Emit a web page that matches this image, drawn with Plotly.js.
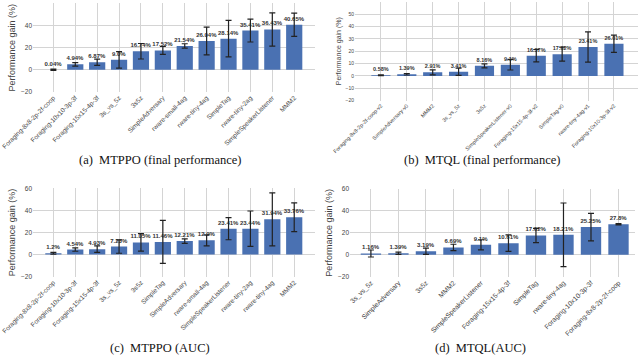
<!DOCTYPE html>
<html>
<head>
<meta charset="utf-8">
<script src="https://cdn.plot.ly/plotly-3.0.1.min.js"></script>
<style>
  html, body { margin: 0; padding: 0; background: #fff; }
  #chart { width: 640px; height: 356px; }
</style>
</head>
<body>
<div id="chart"></div>
<script>
// (a) MTPPO final performance
const catsA = ['Foraging-8x8-2p-2f-coop', 'Foraging-10x10-3p-3f', 'Foraging-15x15-4p-3f', '3s_vs_5z', '3s5z',
  'SimpleAdversary', 'rware-small-4ag', 'rware-tiny-4ag', 'SimpleTag', 'rware-tiny-2ag', 'SimpleSpeakerListener', 'MMM2'];
const valsA = [0.04, 4.94, 6.87, 9.0, 16.74, 17.52, 21.54, 26.04, 28.14, 35.41, 36.43, 40.65];
const errA = [0.5, 1.6, 2.8, 7.5, 7, 3.5, 2, 12.5, 16.5, 10.3, 15, 10.5];
const textA = ['0.04%', '4.94%', '6.87%', '9.0%', '16.74%', '17.52%', '21.54%', '26.04%', '28.14%', '35.41%', '36.43%', '40.65%'];

// (b) MTQL final performance
const catsB = ['Foraging-8x8-2p-2f-coop-v2', 'SimpleAdversary-v0', 'MMM2', '3s_vs_5z', '3s5z',
  'SimpleSpeakerListener-v0', 'Foraging-15x15-4p-3f-v2', 'SimpleTag-v0', 'rware-tiny-4ag-v1', 'Foraging-10x10-3p-3f-v2'];
const valsB = [0.58, 1.39, 2.91, 3.41, 8.16, 9.1, 16.37, 17.62, 23.41, 26.01];
const errB = [0.4, 0.6, 2, 3, 1.6, 4.3, 5, 5.7, 12.2, 7];
const textB = ['0.58%', '1.39%', '2.91%', '3.41%', '8.16%', '9.1%', '16.37%', '17.62%', '23.41%', '26.01%'];

// (c) MTPPO AUC
const catsC = ['Foraging-8x8-2p-2f-coop', 'Foraging-10x10-3p-3f', 'Foraging-15x15-4p-3f', '3s_vs_5z', '3s5z',
  'SimpleTag', 'SimpleAdversary', 'rware-small-4ag', 'SimpleSpeakerListener', 'rware-tiny-2ag', 'rware-tiny-4ag', 'MMM2'];
const valsC = [1.2, 4.54, 4.93, 7.23, 11.05, 11.46, 12.21, 12.9, 23.41, 23.44, 31.94, 33.76];
const errC = [0.8, 1.5, 3, 6, 8, 19.5, 2, 5, 10, 16, 24, 13];
const textC = ['1.2%', '4.54%', '4.93%', '7.23%', '11.05%', '11.46%', '12.21%', '12.9%', '23.41%', '23.44%', '31.94%', '33.76%'];

// (d) MTQL AUC
const catsD = ['3s_vs_5z', 'SimpleAdversary', '3s5z', 'MMM2', 'SimpleSpeakerListener', 'Foraging-15x15-4p-3f',
  'SimpleTag', 'rware-tiny-4ag', 'Foraging-10x10-3p-3f', 'Foraging-8x8-2p-2f-coop'];
const valsD = [1.16, 1.39, 3.19, 6.69, 9.1, 10.61, 17.62, 18.21, 25.25, 27.8];
const errD = [3.2, 1, 2.8, 2.9, 4.6, 7.5, 6.5, 29, 12.5, 0.6];
const textD = ['1.16%', '1.39%', '3.19%', '6.69%', '9.1%', '10.61%', '17.62%', '18.21%', '25.25%', '27.8%'];

const BAR = '#4a71b2';
const FONT = 'Liberation Sans, Arial, sans-serif';

function barTrace(cats, vals, errs, texts, xa, ya, fs) {
    return {
        type: 'bar',
        x: cats,
        y: vals,
        xaxis: xa,
        yaxis: ya,
        marker: { color: BAR },
        text: texts,
        textposition: 'outside',
        cliponaxis: false,
        constraintext: 'none',
        textfont: { family: FONT, size: fs, color: '#333', weight: 'bold' },
        error_y: { type: 'data', array: errs, visible: true, color: '#222', thickness: 1.2, width: 3 },
        showlegend: false,
        hoverinfo: 'x+y'
    };
}

function xAxis(domain, range, fs, anchor) {
    return {
        domain: domain,
        range: range,
        anchor: anchor,
        type: 'category',
        tickangle: -45,
        tickfont: { family: FONT, size: fs, color: '#444' },
        showgrid: true,
        gridcolor: '#d4d4d4',
        ticks: '',
        showline: false,
        automargin: false
    };
}

function yAxis(domain, fs, titleSize, dtick, anchor) {
    return {
        domain: domain,
        range: [-20, 60],
        anchor: anchor,
        dtick: dtick,
        tickfont: { family: FONT, size: fs, color: '#444' },
        title: { text: 'Performance gain (%)', font: { family: FONT, size: titleSize, color: '#444' }, standoff: 3 },
        showgrid: true,
        gridcolor: '#d4d4d4',
        zeroline: false,
        showline: false,
        automargin: false
    };
}

const data = [
    barTrace(catsA, valsA, errA, textA, 'x', 'y', 6),
    barTrace(catsB, valsB, errB, textB, 'x2', 'y2', 5.5),
    barTrace(catsC, valsC, errC, textC, 'x3', 'y3', 6),
    barTrace(catsD, valsD, errD, textD, 'x4', 'y4', 6)
];

const caption = (text, x, y) => ({
    text: text, x: x, y: y, xref: 'paper', yref: 'paper', showarrow: false,
    xanchor: 'center', yanchor: 'middle',
    font: { family: 'Liberation Serif, Times New Roman, serif', size: 12.5, color: '#111' }
});

const layout = {
    width: 640,
    height: 356,
    margin: { l: 0, r: 0, t: 0, b: 0 },
    paper_bgcolor: '#fff',
    plot_bgcolor: '#fff',
    bargap: 0.26,
    xaxis: xAxis([0.0516, 0.4922], [-0.93, 11.95], 6.5, 'y'),
    yaxis: yAxis([0.7416, 0.9907], 6.5, 9, 20, 'x'),
    xaxis2: xAxis([0.5547, 0.9969], [-1.0, 9.93], 5.4, 'y2'),
    yaxis2: yAxis([0.7171, 0.9952], 5, 7, 10, 'x2'),
    xaxis3: xAxis([0.0516, 0.4922], [-0.93, 11.95], 6.5, 'y3'),
    yaxis3: yAxis([0.2228, 0.4711], 6.5, 9, 20, 'x3'),
    xaxis4: xAxis([0.5469, 0.9922], [-0.76, 9.6], 6.8, 'y4'),
    yaxis4: yAxis([0.2228, 0.4691], 6.5, 9, 20, 'x4'),
    annotations: [
        caption('(a)  MTPPO (final performance)', 0.25, 0.5506),
        caption('(b)  MTQL (final performance)', 0.753, 0.5506),
        caption('(c)  MTPPO (AUC)', 0.25, 0.0225),
        caption('(d)  MTQL(AUC)', 0.75, 0.0225)
    ]
};

Plotly.newPlot('chart', data, layout, { staticPlot: true });
</script>
</body>
</html>
